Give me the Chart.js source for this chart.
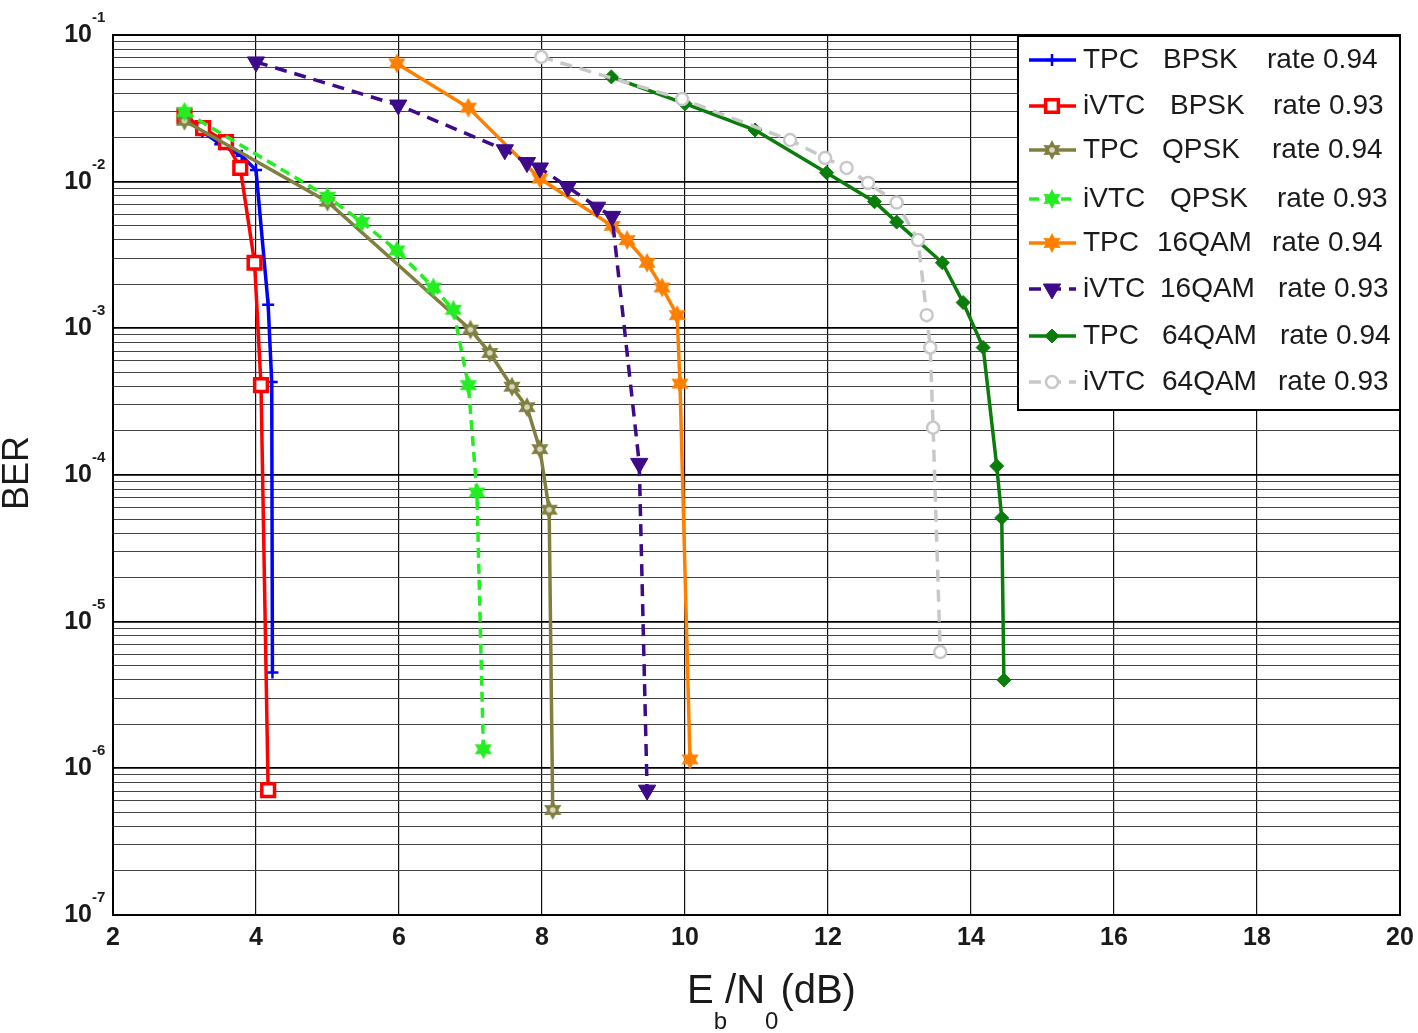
<!DOCTYPE html>
<html>
<head>
<meta charset="utf-8">
<script src="https://cdn.jsdelivr.net/npm/chart.js@4.4.1/dist/chart.umd.min.js"></script>
<style>
  body { margin: 0; background: #fff; }
  #wrap { width: 1418px; height: 1033px; }
</style>
</head>
<body>
<div id="wrap"><canvas id="berChart" width="1418" height="1033"></canvas></div>
<script>
// x ticks (Eb/N0 dB) and y decades
const xTicks = [2, 4, 6, 8, 10, 12, 14, 16, 18, 20];
const yDecades = [-7, -6, -5, -4, -3, -2, -1];

// legend text, one entry per curve
const codes = ["TPC", "iVTC", "TPC", "iVTC", "TPC", "iVTC", "TPC", "iVTC"];
const mods = ["BPSK", "BPSK", "QPSK", "QPSK", "16QAM", "16QAM", "64QAM", "64QAM"];
const rates = ["rate 0.94", "rate 0.93", "rate 0.94", "rate 0.93", "rate 0.94", "rate 0.93", "rate 0.94", "rate 0.93"];

// series
const tpcBpskX = [3, 3.25, 3.5, 3.8, 4.0, 4.17, 4.22, 4.23];
const tpcBpskY = [0.027, 0.022, 0.018, 0.015, 0.012, 1.45e-3, 4.3e-4, 4.5e-6];

const ivtcBpskX = [3, 3.26, 3.58, 3.78, 3.98, 4.07, 4.17];
const ivtcBpskY = [0.028, 0.0232, 0.0186, 0.0124, 2.8e-3, 4.1e-4, 7.1e-7];

const tpcQpskX = [3, 5, 7, 7.27, 7.58, 7.79, 7.97, 8.1, 8.15];
const tpcQpskY = [0.026, 7.3e-3, 9.8e-4, 6.8e-4, 4.0e-4, 2.9e-4, 1.5e-4, 5.8e-5, 5.2e-7];

const ivtcQpskX = [3, 5, 5.48, 5.97, 6.48, 6.76, 6.97, 7.09, 7.18];
const ivtcQpskY = [0.030, 7.9e-3, 5.3e-3, 3.4e-3, 1.9e-3, 1.34e-3, 4.1e-4, 7.6e-5, 1.35e-6];

const tpc16X = [5.97, 6.97, 7.97, 8.98, 9.19, 9.47, 9.68, 9.89, 9.93, 10.07];
const tpc16Y = [0.064, 0.032, 0.0105, 5.0e-3, 4.0e-3, 2.8e-3, 1.9e-3, 1.23e-3, 4.2e-4, 1.15e-6];

const ivtc16X = [4, 5.99, 7.48, 7.79, 7.97, 8.36, 8.77, 8.98, 9.36, 9.47];
const ivtc16Y = [0.0655, 0.0333, 0.0165, 0.0135, 0.0124, 9.2e-3, 6.7e-3, 5.8e-3, 1.2e-4, 7.1e-7];

const tpc64X = [8.97, 10, 10.98, 11.98, 12.65, 12.96, 13.6, 13.89, 14.17, 14.36, 14.43, 14.46];
const tpc64Y = [0.0518, 0.034, 0.0225, 0.0115, 7.3e-3, 5.3e-3, 2.8e-3, 1.5e-3, 7.4e-4, 1.15e-4, 5.1e-5, 4.0e-6];

const ivtc64X = [7.99, 9.96, 11.47, 11.96, 12.26, 12.56, 12.96, 13.26, 13.38, 13.43, 13.47, 13.57];
const ivtc64Y = [0.0708, 0.0366, 0.0192, 0.0145, 0.0124, 9.8e-3, 7.2e-3, 4.0e-3, 1.23e-3, 7.4e-4, 2.1e-4, 6.2e-6];

const FONT = "'Liberation Sans', Arial, sans-serif";

// six-point star marker drawn on a small canvas
function starMarker(color, r, hollow) {
    let c = document.createElement("canvas");
    let s = Math.ceil(r * 2 + 4);
    c.width = s; c.height = s;
    let g = c.getContext("2d");
    let cx = s / 2, cy = s / 2;
    g.beginPath();
    for (let i = 0; i < 12; i++) {
        let a = -Math.PI / 2 + i * Math.PI / 6;
        let rr = i % 2 === 0 ? r : r * 0.55;
        let px = cx + rr * Math.cos(a), py = cy + rr * Math.sin(a);
        if (i === 0) g.moveTo(px, py); else g.lineTo(px, py);
    }
    g.closePath();
    g.fillStyle = color;
    g.fill();
    if (hollow) {
        g.beginPath();
        g.arc(cx, cy, r * 0.28, 0, Math.PI * 2);
        g.fillStyle = "#d8d8c0";
        g.fill();
    }
    return c;
}

function pts(xs, ys) {
    return xs.map((x, i) => ({ x: x, y: ys[i] }));
}

let styles = [
    { color: "#0000ff", dash: [], pointStyle: "cross", radius: 6, pw: 2.5, fill: "#0000ff" },
    { color: "#ff0000", dash: [], pointStyle: "rect", radius: 9, pw: 3.5, fill: "#ffffff" },
    { color: "#7f7f40", dash: [], pointStyle: starMarker("#7f7f40", 10, true), radius: 10, pw: 1, fill: "#7f7f40" },
    { color: "#22ee22", dash: [10, 6], pointStyle: starMarker("#22ee22", 10, false), radius: 10, pw: 1, fill: "#22ee22" },
    { color: "#ff8000", dash: [], pointStyle: starMarker("#ff8000", 10, false), radius: 10, pw: 1, fill: "#ff8000" },
    { color: "#3d0a8a", dash: [12, 8], pointStyle: "triangle", rotation: 180, radius: 10, pw: 1, fill: "#3d0a8a" },
    { color: "#0a7d0a", dash: [], pointStyle: "rectRot", radius: 7, pw: 1, fill: "#0a7d0a" },
    { color: "#c8c8c8", dash: [12, 8], pointStyle: "circle", radius: 6, pw: 2.5, fill: "#ffffff" }
];

let seriesX = [tpcBpskX, ivtcBpskX, tpcQpskX, ivtcQpskX, tpc16X, ivtc16X, tpc64X, ivtc64X];
let seriesY = [tpcBpskY, ivtcBpskY, tpcQpskY, ivtcQpskY, tpc16Y, ivtc16Y, tpc64Y, ivtc64Y];

let datasets = codes.map((code, i) => {
    let st = styles[i];
    return {
        label: code + " " + mods[i] + " " + rates[i],
        data: pts(seriesX[i], seriesY[i]),
        borderColor: st.color,
        backgroundColor: st.fill,
        borderWidth: 3.5,
        borderDash: st.dash,
        pointStyle: st.pointStyle,
        pointRotation: st.rotation || 0,
        pointRadius: st.radius,
        pointBorderWidth: st.pw,
        pointBorderColor: st.color,
        pointBackgroundColor: st.fill,
        tension: 0,
        order: 10 - i
    };
});

function isDecade(v) {
    let l = Math.log10(v);
    return Math.abs(l - Math.round(l)) < 1e-9;
}

// legend column x positions, as in the figure
const modCol = [1163, 1170, 1162, 1170, 1157, 1160, 1162, 1162];
const rateCol = [1267, 1273, 1272, 1277, 1272, 1278, 1280, 1278];
const rowY = [60, 106, 150, 199, 243, 289, 336, 382];

// axes labels, frame and legend drawn by hand
const decorPlugin = {
    id: "decor",
    afterDraw(chart) {
        let ctx = chart.ctx;
        let area = chart.chartArea;
        let xs = chart.scales.x, ys = chart.scales.y;
        ctx.save();

        // frame
        ctx.strokeStyle = "#000";
        ctx.lineWidth = 2;
        ctx.strokeRect(area.left, area.top, area.right - area.left, area.bottom - area.top);

        // x tick labels
        ctx.fillStyle = "#1a1a1a";
        ctx.font = "bold 25px " + FONT;
        ctx.textAlign = "center";
        ctx.textBaseline = "middle";
        xTicks.forEach(t => {
            ctx.fillText(String(t), xs.getPixelForValue(t), area.bottom + 23);
        });

        // y tick labels 10^k
        yDecades.forEach(k => {
            let py = ys.getPixelForValue(Math.pow(10, k));
            ctx.font = "bold 25px " + FONT;
            ctx.textAlign = "right";
            ctx.textBaseline = "middle";
            ctx.fillText("10", 92, py);
            ctx.font = "bold 15px " + FONT;
            ctx.textAlign = "left";
            ctx.textBaseline = "alphabetic";
            ctx.fillText(String(k), 92, py - 13);
        });

        // y title
        ctx.save();
        ctx.translate(18, 473);
        ctx.rotate(-Math.PI / 2);
        ctx.font = "36px " + FONT;
        ctx.textAlign = "center";
        ctx.textBaseline = "middle";
        ctx.fillText("BER", 0, 0);
        ctx.restore();

        // x title E_b/N_0(dB)
        ctx.textAlign = "left";
        ctx.textBaseline = "alphabetic";
        let base = 1003;
        let x0 = 687;
        ctx.font = "40px " + FONT;
        ctx.fillText("E", x0, base);
        x0 += ctx.measureText("E").width;
        ctx.font = "24px " + FONT;
        ctx.fillText("b", x0, base + 26);
        x0 += ctx.measureText("b").width - 2;
        ctx.font = "40px " + FONT;
        ctx.fillText("/N", x0, base);
        x0 += ctx.measureText("/N").width;
        ctx.font = "24px " + FONT;
        ctx.fillText("0", x0, base + 26);
        x0 += ctx.measureText("0").width + 2;
        ctx.font = "40px " + FONT;
        ctx.fillText("(dB)", x0, base);

        // legend box
        let lx = 1018, ly = 36, lw = 382, lh = 374;
        ctx.fillStyle = "#fff";
        ctx.fillRect(lx, ly, lw, lh);
        ctx.strokeStyle = "#000";
        ctx.lineWidth = 2;
        ctx.strokeRect(lx, ly, lw, lh);

        chart.data.datasets.forEach((ds, i) => {
            let ry = rowY[i];
            ctx.save();
            ctx.strokeStyle = ds.borderColor;
            ctx.lineWidth = 3.5;
            ctx.setLineDash(ds.borderDash);
            ctx.beginPath();
            ctx.moveTo(1029, ry);
            ctx.lineTo(1076, ry);
            ctx.stroke();
            ctx.setLineDash([]);
            ctx.fillStyle = ds.pointBackgroundColor;
            ctx.strokeStyle = ds.pointBorderColor;
            ctx.lineWidth = ds.pointBorderWidth;
            Chart.helpers.drawPoint(ctx, {
                pointStyle: ds.pointStyle,
                rotation: ds.pointRotation,
                radius: ds.pointRadius,
                borderWidth: ds.pointBorderWidth
            }, 1052, ry);
            ctx.restore();
            ctx.fillStyle = "#1a1a1a";
            ctx.font = "28px " + FONT;
            ctx.textAlign = "left";
            ctx.textBaseline = "middle";
            ctx.fillText(codes[i], 1083, ry);
            ctx.fillText(mods[i], modCol[i], ry);
            ctx.fillText(rates[i], rateCol[i], ry);
        });

        ctx.restore();
    }
};

let ctx = document.getElementById("berChart").getContext("2d");
new Chart(ctx, {
    type: "line",
    data: { datasets: datasets },
    options: {
        responsive: false,
        animation: false,
        devicePixelRatio: 1,
        layout: { padding: { left: 113, right: 18, top: 35, bottom: 118 } },
        plugins: {
            legend: { display: false },
            tooltip: { enabled: false }
        },
        scales: {
            x: {
                type: "linear",
                min: 2,
                max: 20,
                ticks: { display: false, stepSize: 2 },
                grid: { color: "#111", lineWidth: 1.2, drawTicks: false },
                border: { display: false }
            },
            y: {
                type: "logarithmic",
                min: 1e-7,
                max: 1e-1,
                ticks: { display: false },
                afterBuildTicks: function (scale) {
                    let t = [];
                    yDecades.forEach(k => {
                        for (let m = 1; m <= 9; m++) {
                            let v = m * Math.pow(10, k - 1);
                            if (v >= 1e-7 && v <= 1e-1) t.push({ value: v });
                        }
                    });
                    t.push({ value: 1e-1 });
                    scale.ticks = t;
                },
                grid: {
                    color: c => (c.tick && isDecade(c.tick.value)) ? "#000" : "#444",
                    lineWidth: c => (c.tick && isDecade(c.tick.value)) ? 1.8 : 1.1,
                    drawTicks: false
                },
                border: { display: false }
            }
        }
    },
    plugins: [decorPlugin]
});
</script>
</body>
</html>
